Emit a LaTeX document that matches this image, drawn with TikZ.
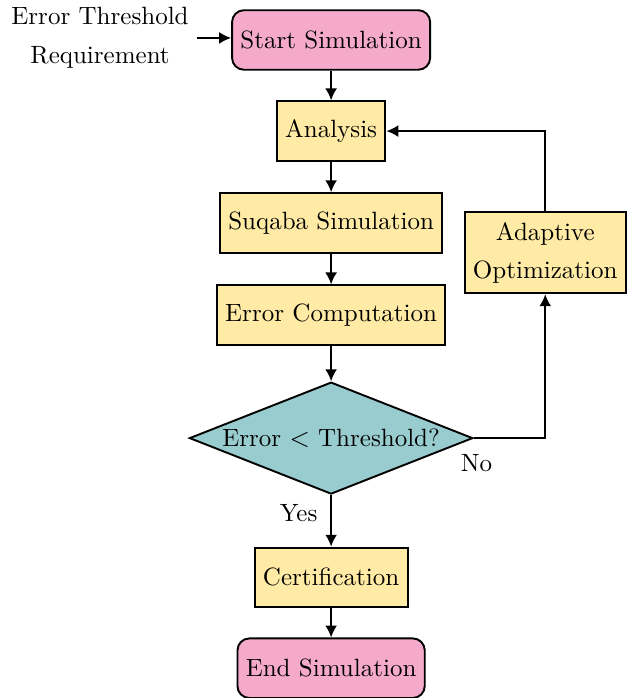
\documentclass[tikz,border=0pt]{standalone}
\usepackage{amssymb,amsmath}
\usepackage{tikz}
\usetikzlibrary{shapes.geometric,arrows.meta,calc}

\definecolor{startpink}{RGB}{245,170,204}
\definecolor{stepyellow}{RGB}{255,235,165}
\definecolor{checkteal}{RGB}{153,204,206}

\begin{document}
\begin{tikzpicture}[>={Latex[length=5pt,width=5pt]}, font=\fontsize{10.5pt}{12.6pt}\selectfont,
		terminal/.style={draw, line width=0.8pt, rounded corners=5pt, fill=startpink, minimum height=25pt, inner xsep=3.5pt},
		process/.style={draw, line width=0.8pt, fill=stepyellow, minimum height=25pt, inner xsep=3.5pt},
		decision/.style={draw, line width=0.8pt, diamond, aspect=2.5, fill=checkteal, minimum width=119pt, minimum height=47pt, inner sep=0pt},
		flow/.style={->, line width=0.8pt}]
		\useasboundingbox (-4.886,0) rectangle (4.354,-10.30);
		% main column
		\node[terminal] (start) at (0,-0.59) {Start Simulation};
		\node[process] (analysis) at (0,-1.934) {Analysis};
		\node[process] (suqaba) at (0,-3.29) {Suqaba Simulation};
		\node[process] (errcomp) at (0,-4.65) {Error Computation};
		\node[decision] (check) at (0,-6.465) {Error $<$ Threshold?};
		\node[process] (cert) at (0,-8.52) {Certification};
		\node[terminal] (finish) at (0,-9.86) {End Simulation};
		% side branch
		\node[process, align=center, minimum height=34pt] (adapt) at (3.16,-3.73) {Adaptive\\[3.5pt]Optimization};
		% input requirement
		\node[align=center] (req) at (-3.41,-0.56) {Error Threshold\\[4pt]Requirement};
		% arrows
		\draw[flow] (req) -- (req -| start.west);
		\draw[flow] (start) -- (analysis);
		\draw[flow] (analysis) -- (suqaba);
		\draw[flow] (suqaba) -- (errcomp);
		\draw[flow] (errcomp) -- (check);
		\draw[flow] (check) -- (cert) node[pos=0.35, left, xshift=-2pt] {Yes};
		\draw[flow] (cert) -- (finish);
		\draw[flow] (check.east) -| (adapt.south);
		\node[anchor=north west, xshift=-9pt, yshift=-3.5pt] (nolabel) at (check.east) {No};
		\draw[flow] (adapt.north) |- (analysis.east);
	\end{tikzpicture}
\end{document}
